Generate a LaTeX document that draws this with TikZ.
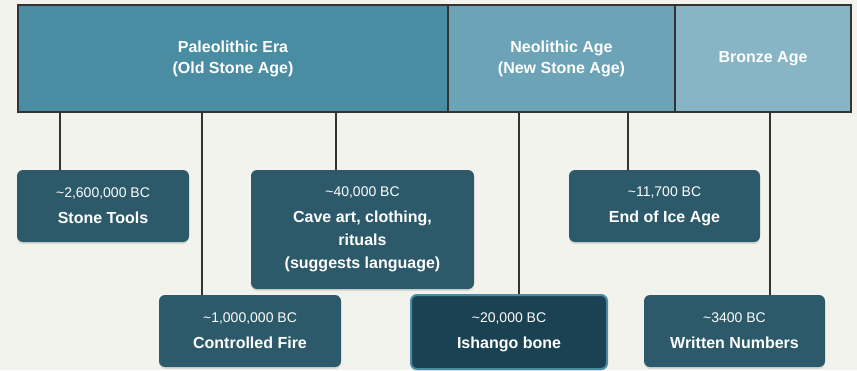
\documentclass[tikz,border=0pt]{standalone}
\usepackage{fontspec}
\setmainfont{Liberation Sans}
\usetikzlibrary{shadows}
\definecolor{bg}{HTML}{F3F3EE}
\definecolor{palc}{HTML}{4A8DA3}
\definecolor{neoc}{HTML}{6CA3B6}
\definecolor{broc}{HTML}{88B5C6}
\definecolor{boxc}{HTML}{2C5A6A}
\definecolor{hic}{HTML}{1B4252}
\definecolor{linec}{HTML}{333333}
\newcommand\dateline[1]{{\mdseries\fontsize{14}{23}\selectfont\textasciitilde#1}\\[3pt]}
\begin{document}
\begin{tikzpicture}[x=1pt,y=-1pt,
  era/.style={draw=linec, line width=2.5pt, text=white, align=center, inner sep=0,
    font=\bfseries\fontsize{16}{21}\selectfont},
  evbox/.style={rounded corners=6pt, fill=boxc, text=white, align=center, inner sep=0,
    font=\bfseries\fontsize{16}{23}\selectfont,
    drop shadow={shadow xshift=0pt, shadow yshift=-2pt, opacity=0.10, fill=black}},
  conn/.style={draw=linec, line width=2.5pt}]
\fill[bg] (0,0) rectangle (857,370);
\useasboundingbox (0,0) rectangle (857,370);
% era bar
\node[era, fill=palc, minimum width=430, minimum height=107] (pal) at (233,58.5) {Paleolithic Era\\(Old Stone Age)};
\node[era, fill=neoc, minimum width=227, minimum height=107] (neo) at (561.5,58.5) {Neolithic Age\\(New Stone Age)};
\node[era, fill=broc, minimum width=176, minimum height=107] (bro) at (763,58.5) {Bronze Age};
% events
\node[evbox, minimum width=172, minimum height=72] (stone) at (103,206) {\dateline{2,600,000 BC}Stone Tools};
\node[evbox, minimum width=223, minimum height=119] (cave) at (362.5,229.5) {\dateline{40,000 BC}Cave art, clothing,\\rituals\\(suggests language)};
\node[evbox, minimum width=182, minimum height=72] (fire) at (250,331) {\dateline{1,000,000 BC}Controlled Fire};
\node[evbox, fill=hic, draw=palc, line width=2pt, minimum width=196, minimum height=74] (ishango) at (509,332) {\dateline{20,000 BC}Ishango bone};
\node[evbox, minimum width=191, minimum height=72] (ice) at (664.5,206) {\dateline{11,700 BC}End of Ice Age};
\node[evbox, minimum width=181, minimum height=72] (write) at (734.5,331) {\dateline{3400 BC}Written Numbers};
% connector starts on the bar
\coordinate (t1) at (60,112);
\coordinate (t2) at (202,112);
\coordinate (t3) at (336,112);
\coordinate (t4) at (519,112);
\coordinate (t5) at (628,112);
\coordinate (t6) at (770,112);
\draw[conn] (t1) -- (t1 |- stone.north);
\draw[conn] (t2) -- (t2 |- fire.north);
\draw[conn] (t3) -- (t3 |- cave.north);
\draw[conn] (t4) -- (t4 |- ishango.north);
\draw[conn] (t5) -- (t5 |- ice.north);
\draw[conn] (t6) -- (t6 |- write.north);
\end{tikzpicture}
\end{document}
